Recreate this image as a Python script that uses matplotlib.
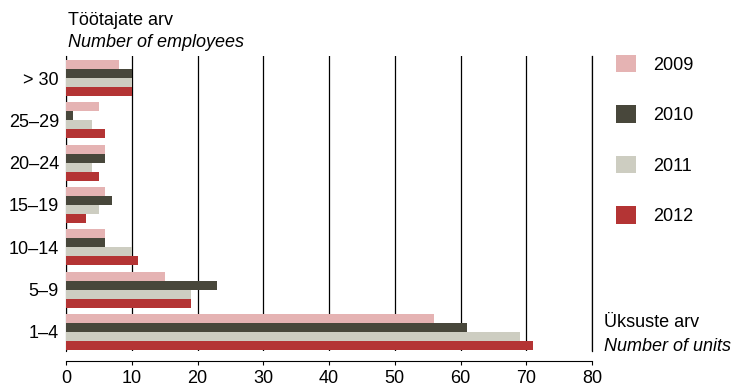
import numpy as np
import matplotlib
matplotlib.use('Agg')
import matplotlib.pyplot as plt

plt.rcParams['font.family'] = ['Liberation Sans', 'DejaVu Sans']

# categories, bottom to top
groups = ['1–4', '5–9', '10–14', '15–19', '20–24', '25–29', '> 30']
years = ['2009', '2010', '2011', '2012']
units_2009 = [56, 15, 6, 6, 6, 5, 8]
units_2010 = [61, 23, 6, 7, 6, 1, 10]
units_2011 = [69, 19, 10, 5, 4, 4, 10]
units_2012 = [71, 19, 11, 3, 5, 6, 10]
xticks = [0, 10, 20, 30, 40, 50, 60, 70, 80]

colors = ['#e5b3b3', '#48473b', '#cdcdc1', '#b43434']

fig = plt.figure(figsize=(7.31, 3.88), dpi=100)
ax = fig.add_axes([66/731, 1 - 351/388, 526/731, 295/388])

y = np.arange(len(groups))
h = 0.2126
series = [units_2009, units_2010, units_2011, units_2012]
offsets = [1.5*h, 0.5*h, -0.5*h, -1.5*h]
for vals, off, col, yr in zip(series, offsets, colors, years):
    ax.barh(y + off, vals, height=h, color=col, label=yr, zorder=3)

ax.set_xlim(0, 80)
ax.set_ylim(-0.45, 6.52)
ax.set_xticks(xticks)
ax.set_yticks(y)
ax.set_yticklabels(groups)

ax.xaxis.grid(True, color='black', linewidth=0.9, zorder=0)
ax.set_axisbelow(True)
ax.spines['top'].set_visible(False)
ax.spines['left'].set_color('black')
ax.spines['right'].set_color('black')
ax.spines['right'].set_linewidth(0.9)
ax.spines['bottom'].set_position(('outward', 7))
ax.tick_params(axis='y', length=0, pad=5, labelsize=13)
ax.tick_params(axis='x', direction='out', length=3, pad=3.5, labelsize=13)

fig.text(68/731, 1 - 25/388, 'Töötajate arv', fontsize=13, va='baseline')
fig.text(68/731, 1 - 47/388, 'Number of employees', fontsize=13, style='italic', va='baseline')
fig.text(604/731, 1 - 327/388, 'Üksuste arv', fontsize=13, va='baseline')
fig.text(604/731, 1 - 351/388, 'Number of units', fontsize=13, style='italic', va='baseline')

ax.legend(loc='upper left', bbox_to_anchor=(616/731, 1 - 55/388),
          bbox_transform=fig.transFigure, frameon=False, fontsize=13,
          handlelength=1.08, handleheight=1.08, handletextpad=0.98,
          labelspacing=1.76, borderpad=0, borderaxespad=0)

plt.savefig('out.png', dpi=100)
